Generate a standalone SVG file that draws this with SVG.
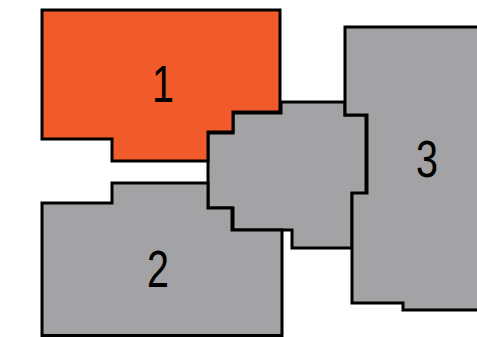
<svg xmlns="http://www.w3.org/2000/svg" width="477" height="337" viewBox="0 0 477 337">
<style>
.z{stroke:#000;stroke-width:3;stroke-linejoin:miter}
.g{fill:#a3a2a4}
.o{fill:#f15a2b}
.t{font-family:"Liberation Sans",Arial,sans-serif;font-size:52px;fill:#000;text-anchor:middle}
</style>
<rect width="477" height="337" fill="#fff"/>
<g id="zone-center">
<polygon class="z g" points="281,102 345,102 345,115 366,115 366,194 352,194 352,248 292,248 292,230 233,230 233,208 208,208 208,133 233,133 233,113 281,113"/>
</g>
<g id="zone-1">
<polygon class="z o" points="42,10 280,10 280,112 233,112 233,132 208,132 208,161 112,161 112,139 42,139"/>
<text class="t" transform="translate(163,102) scale(0.76,1)">1</text>
</g>
<g id="zone-2">
<polygon class="z g" points="42,203 112,203 112,183 208,183 208,208 232,208 232,230 282,230 282,335.5 42,335.5"/>
<text class="t" transform="translate(158,287) scale(0.76,1)">2</text>
</g>
<g id="zone-3">
<polygon class="z g" points="345,27 480,27 480,310 403,310 403,303 352,303 352,193 367,193 367,115 345,115"/>
<text class="t" transform="translate(427,177) scale(0.76,1)">3</text>
</g>
</svg>
